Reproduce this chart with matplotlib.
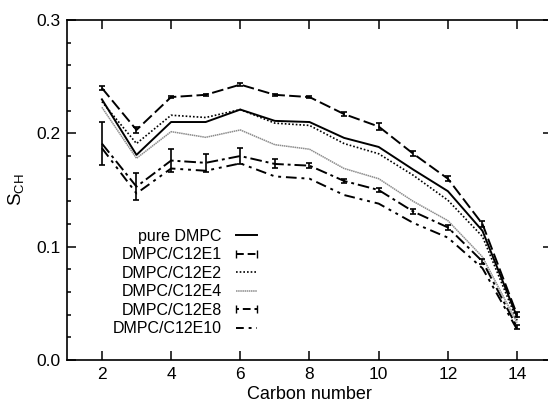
import numpy as np
import matplotlib
matplotlib.use('Agg')
import matplotlib.pyplot as plt
from matplotlib.lines import Line2D

plt.rcParams['font.family'] = ['Liberation Sans', 'DejaVu Sans']
plt.rcParams['font.size'] = 11.5

carbon = [2, 3, 4, 5, 6, 7, 8, 9, 10, 11, 12, 13, 14]

pure_dmpc = [0.230, 0.181, 0.210, 0.210, 0.221, 0.211, 0.210, 0.196, 0.188, 0.168, 0.149, 0.114, 0.038]
c12e1 = [0.240, 0.203, 0.232, 0.234, 0.243, 0.234, 0.232, 0.217, 0.206, 0.182, 0.160, 0.120, 0.040]
c12e1_err = [0.002, 0.003, 0.001, 0.001, 0.001, 0.001, 0.001, 0.002, 0.003, 0.002, 0.002, 0.003, 0.002]
c12e2 = [0.228, 0.191, 0.216, 0.214, 0.221, 0.209, 0.207, 0.191, 0.182, 0.163, 0.141, 0.109, 0.035]
c12e4 = [0.223, 0.178, 0.2015, 0.1965, 0.203, 0.190, 0.186, 0.169, 0.160, 0.140, 0.123, 0.091, 0.033]
c12e8 = [0.191, 0.153, 0.176, 0.174, 0.180, 0.173, 0.1715, 0.158, 0.150, 0.131, 0.117, 0.087, 0.029]
c12e8_err = [0.019, 0.012, 0.010, 0.008, 0.007, 0.004, 0.002, 0.002, 0.002, 0.002, 0.002, 0.002, 0.002]
c12e10 = [0.187, 0.147, 0.169, 0.167, 0.1735, 0.162, 0.160, 0.1456, 0.138, 0.121, 0.108, 0.081, 0.027]

labels = ['pure DMPC', 'DMPC/C12E1', 'DMPC/C12E2', 'DMPC/C12E4', 'DMPC/C12E8', 'DMPC/C12E10']

fig = plt.figure(figsize=(5.48, 4.05), dpi=100)
ax = fig.add_axes([0.1228, 0.111, 0.8839, 0.8396])

lw = 1.4
ls_e1 = (0, (6, 2.2))
ls_e8 = (0, (6, 2, 1.5, 2))
ls_e10 = (0, (5.5, 2.5, 1.5, 2.5, 1.5, 2.5))

ax.plot(carbon, pure_dmpc, color='k', lw=lw)
ax.errorbar(carbon, c12e1, yerr=c12e1_err, color='k', lw=lw, ls=ls_e1,
            capsize=2.5, elinewidth=1.2, capthick=1.2)
ax.plot(carbon, c12e2, color='k', lw=1.2, ls=(0, (1, 1.2)))
ax.plot(carbon, c12e4, color='0.55', lw=1.1, ls=(0, (1, 0.4)))
ax.errorbar(carbon, c12e8, yerr=c12e8_err, color='k', lw=lw, ls=ls_e8,
            capsize=2.5, elinewidth=1.2, capthick=1.2)
ax.plot(carbon, c12e10, color='k', lw=lw, ls=ls_e10)

handles = [
    Line2D([], [], color='k', lw=lw),
    Line2D([], [], color='k', lw=lw, ls=(0, (4, 2)), marker='|', markersize=6),
    Line2D([], [], color='k', lw=1.2, ls=(0, (1, 1.2))),
    Line2D([], [], color='0.55', lw=1.1, ls=(0, (1, 0.4))),
    Line2D([], [], color='k', lw=lw, ls=(0, (1.5, 2, 4, 2)), marker='|', markersize=6),
    Line2D([], [], color='k', lw=lw, ls=(0, (4, 2.5, 1.5, 2.5, 1.5, 2.5))),
]
ax.legend(handles, labels, loc='upper right', bbox_to_anchor=(0.415, 0.405),
          frameon=False, markerfirst=False, numpoints=2, handlelength=1.95,
          handletextpad=0.55, labelspacing=0.22, fontsize=11.5, borderaxespad=0)

ax.set_xlim(1, 15)
ax.set_ylim(0, 0.3)
ax.set_xticks([2, 4, 6, 8, 10, 12, 14])
ax.set_yticks([0.0, 0.1, 0.2, 0.3])
ax.set_yticks(np.arange(0, 0.3, 0.02), minor=True)
ax.yaxis.set_major_formatter(plt.FormatStrFormatter('%.1f'))
ax.tick_params(which='both', direction='in', top=True, right=True, width=1.1)
ax.tick_params(which='major', length=6.5, pad=5, labelsize=12.5)
ax.tick_params(which='minor', length=3)
for s in ax.spines.values():
    s.set_linewidth(1.2)

ax.set_xlabel('Carbon number', fontsize=13, labelpad=3)
ax.set_ylabel(r'$\mathregular{S_{CH}}$', fontsize=13.5, labelpad=7)

fig.savefig('out.png', dpi=100)
